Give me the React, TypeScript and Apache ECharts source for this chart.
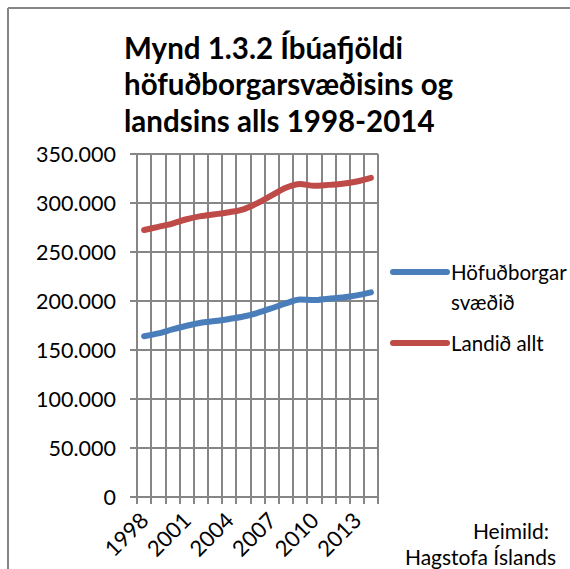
import React, { useEffect, useRef } from "react";
import * as echarts from "echarts";

const years = ["1998","1999","2000","2001","2002","2003","2004","2005","2006","2007","2008","2009","2010","2011","2012","2013","2014"];
const capitalRegion = [164000,167000,171000,174700,177800,179500,181700,184200,187900,192600,197600,201600,200900,202400,203600,205700,208800];
const wholeCountry = [272400,275700,279000,283400,286600,288500,290600,293600,299900,307700,315500,319400,317600,318500,319600,321900,325700];
const seriesNames = ["Höfuðborgarsvæðið", "Landið allt"];
const legendLabels = ["Höfuðborgar\nsvæðið", "Landið allt"];
const colors = ["#4A7EBB", "#BE4B48"];
const titleText = "Mynd 1.3.2 Íbúafjöldi\nhöfuðborgarsvæðisins og\nlandsins alls 1998-2014";
const sourceLines = ["Heimild:", "Hagstofa Íslands"];

const FONT = "Lato, 'Open Sans', sans-serif";
const GRID = "#868686";

export default function App() {
  const ref = useRef<HTMLDivElement>(null);
  useEffect(() => {
    if (!ref.current) return;
    const chart = echarts.init(ref.current, undefined, { renderer: "svg" });
    chart.setOption({
      animation: false,
      backgroundColor: "#ffffff",
      title: {
        text: titleText,
        left: 119,
        top: 24,
        textStyle: { fontFamily: FONT, fontSize: 29.5, fontWeight: "bold", color: "#000", lineHeight: 36.5 },
      },
      grid: { left: 137, right: 192, top: 154, bottom: 72, containLabel: false },
      xAxis: {
        type: "category",
        data: years,
        boundaryGap: true,
        axisLine: { show: true, lineStyle: { color: GRID, width: 2 } },
        axisTick: { show: true, interval: 0, length: 7, lineStyle: { color: GRID, width: 2 } },
        splitLine: { show: true, interval: 0, lineStyle: { color: GRID, width: 2 } },
        axisLabel: { interval: 2, rotate: 45, fontFamily: FONT, fontSize: 22, color: "#000", margin: 19 },
      },
      yAxis: {
        type: "value",
        min: 0,
        max: 350000,
        interval: 50000,
        axisLine: { show: true, lineStyle: { color: GRID, width: 2 } },
        axisTick: { show: true, length: 7, lineStyle: { color: GRID, width: 2 } },
        splitLine: { show: true, lineStyle: { color: GRID, width: 2 } },
        axisLabel: {
          fontFamily: FONT,
          fontSize: 21.5,
          color: "#000",
          margin: 21,
          formatter: (v: number) => (v === 0 ? "0" : Math.round(v / 1000) + ".000"),
        },
      },
      series: [
        {
          name: seriesNames[0],
          type: "line",
          data: capitalRegion,
          smooth: 0.3,
          showSymbol: false,
          lineStyle: { color: colors[0], width: 6, cap: "round" },
          itemStyle: { color: colors[0] },
        },
        {
          name: seriesNames[1],
          type: "line",
          data: wholeCountry,
          smooth: 0.3,
          showSymbol: false,
          lineStyle: { color: colors[1], width: 6, cap: "round" },
          itemStyle: { color: colors[1] },
        },
      ],
      graphic: [
        { type: "line", shape: { x1: 8, y1: 8, x2: 570, y2: 8 }, style: { stroke: GRID, lineWidth: 2 } },
        { type: "line", shape: { x1: 8, y1: 8, x2: 8, y2: 569 }, style: { stroke: GRID, lineWidth: 2 } },
        { type: "line", shape: { x1: 393, y1: 272, x2: 447, y2: 272 }, style: { stroke: colors[0], lineWidth: 6, lineCap: "round" } },
        {
          type: "text", left: 451, top: 257,
          style: { text: legendLabels[0], fontFamily: FONT, fontSize: 20.5, fill: "#000", lineHeight: 30 },
        },
        { type: "line", shape: { x1: 393, y1: 343, x2: 447, y2: 343 }, style: { stroke: colors[1], lineWidth: 6, lineCap: "round" } },
        {
          type: "text", left: 451, top: 328,
          style: { text: legendLabels[1], fontFamily: FONT, fontSize: 20.5, fill: "#000", lineHeight: 30 },
        },
        {
          type: "text", x: 549, y: 530,
          style: { text: sourceLines[0], fontFamily: FONT, fontSize: 21, fill: "#000", align: "right", verticalAlign: "middle" },
        },
        {
          type: "text", x: 556, y: 556,
          style: { text: sourceLines[1], fontFamily: FONT, fontSize: 21, fill: "#000", align: "right", verticalAlign: "middle" },
        },
      ],
    });
    return () => chart.dispose();
  }, []);
  return <div ref={ref} style={{ position: "fixed", left: 0, top: 0, width: 570, height: 569 }} />;
}
